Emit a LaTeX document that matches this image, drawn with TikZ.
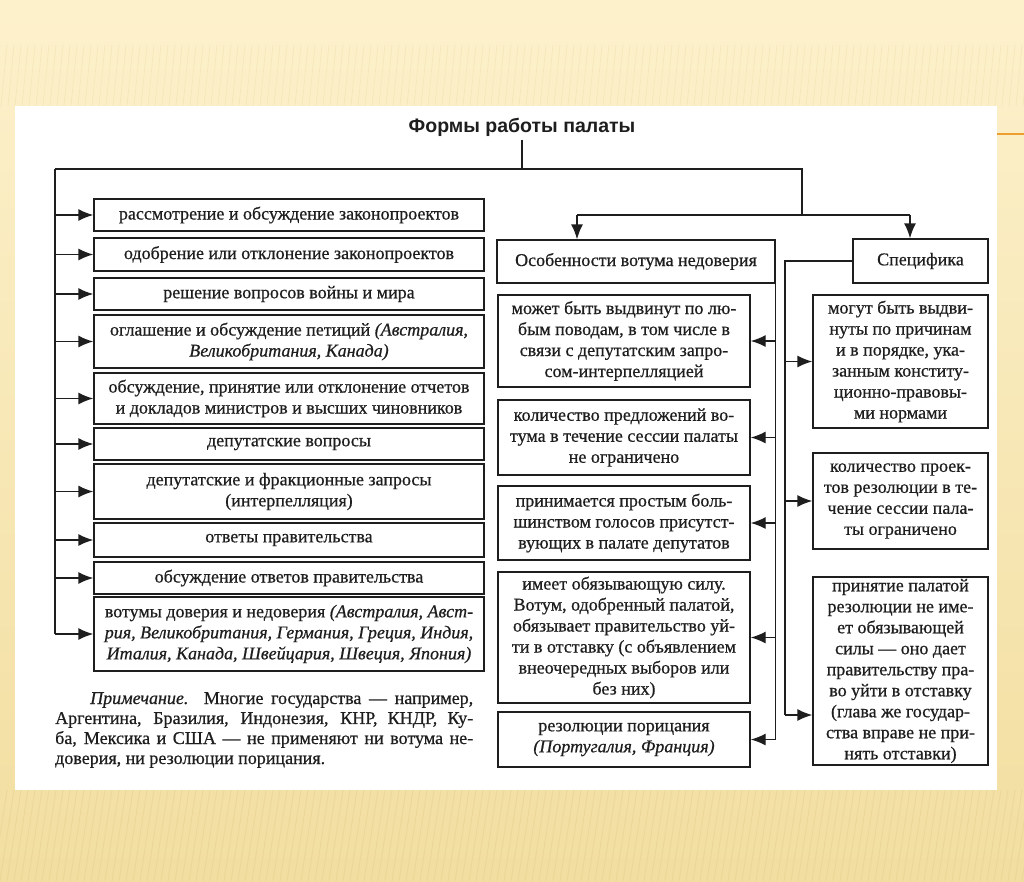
\documentclass[tikz,border=0pt]{standalone}
\usepackage{fontspec}
\setmainfont{Liberation Serif}[UprightFeatures={FakeBold=0.6}, ItalicFeatures={FakeBold=0.6}]
\newfontfamily\titlefont{Liberation Sans}
\usetikzlibrary{arrows.meta}
\definecolor{PaperLight}{RGB}{253,241,204}
\definecolor{PaperDark}{RGB}{242,222,160}
\definecolor{StripeTan}{RGB}{228,205,140}
\definecolor{SlideOrange}{RGB}{236,158,48}
\definecolor{InkGray}{RGB}{30,30,30}

\begin{document}
\begin{tikzpicture}[x=1pt, y=-1pt,
  formbox/.style={draw=InkGray, line width=1.4pt, text=InkGray, align=center,
    inner sep=2pt, font=\fontsize{18}{21}\selectfont},
  lbox/.style={formbox, minimum width=390pt},
  mbox/.style={formbox, minimum width=252pt},
  rbox/.style={formbox, minimum width=175pt},
  link/.style={draw=InkGray, line width=1.4pt},
  arr/.style={link, -{Latex[length=15pt,width=12pt]}}]

\useasboundingbox (0,0) rectangle (1024,881);

% ============================================================
% Slide background and white sheet
% ============================================================
\shade[top color=PaperLight, bottom color=PaperDark] (0,0) rectangle (1024,881);
\foreach \x in {0,7,...,1040}{%
  \draw[StripeTan, line width=0.7pt, opacity=0.25] (\x,45) -- ++(-6,61);
  \draw[StripeTan, line width=0.9pt, opacity=0.45] (\x,790) -- ++(-14,91);
}
\fill[white] (15,106) rectangle (997,790);
\draw[SlideOrange, line width=2.5pt] (997,134) -- (1024,134);

% Title
\node[text=InkGray, font=\titlefont\fontsize{19.5}{24}\selectfont\bfseries] (title) at (522,127) {Формы работы палаты};

% ============================================================
% Left column: forms of work
% ============================================================
\node[lbox, minimum height=32pt] (f1) at (289,215) {рассмотрение и обсуждение законопроектов};
\node[lbox, minimum height=33pt] (f2) at (289,254.5) {одобрение или отклонение законопроектов};
\node[lbox, minimum height=32pt] (f3) at (289,294) {решение вопросов войны и мира};
\node[lbox, minimum height=53pt] (f4) at (289,341.5) {оглашение и обсуждение петиций \textit{(Австралия,}\\\textit{Великобритания, Канада)}};
\node[lbox, minimum height=51pt] (f5) at (289,398.5) {обсуждение, принятие или отклонение отчетов\\и докладов министров и высших чиновников};
\node[lbox, minimum height=32pt] (f6) at (289,444) {депутатские вопросы};
\node[lbox, minimum height=55pt] (f7) at (289,491.5) {депутатские и фракционные запросы\\(интерпелляция)};
\node[lbox, minimum height=34pt] (f8) at (289,540) {ответы правительства};
\node[lbox, minimum height=32pt] (f9) at (289,578) {обсуждение ответов правительства};
\node[lbox, minimum height=74pt] (f10) at (289,634) {вотумы доверия и недоверия \textit{(Австралия, Авст-}\\\textit{рия, Великобритания, Германия, Греция, Индия,}\\\textit{Италия, Канада, Швейцария, Швеция, Япония)}};

% Note under the left column
\node[text=InkGray, align=left, anchor=north west, inner sep=0pt,
  font=\fontsize{18}{20}\selectfont] (note) at (55,692) {%
  \makebox[418pt][s]{\hspace*{35pt}\textit{Примечание.} Многие государства — например,}\\
  \makebox[418pt][s]{Аргентина, Бразилия, Индонезия, КНР, КНДР, Ку-}\\
  \makebox[418pt][s]{ба, Мексика и США — не применяют ни вотума не-}\\
  доверия, ни резолюции порицания.};

% ============================================================
% Middle column: vote of no confidence
% ============================================================
\node[formbox, minimum width=278pt, minimum height=43pt] (vote) at (636,261.5) {Особенности вотума недоверия};
\node[mbox, minimum height=92pt] (v1) at (624,341) {может быть выдвинут по лю-\\бым поводам, в том числе в\\связи с депутатским запро-\\сом-интерпелляцией};
\node[mbox, minimum height=75pt] (v2) at (624,437.5) {количество предложений во-\\тума в течение сессии палаты\\не ограничено};
\node[mbox, minimum height=74pt] (v3) at (624,523) {принимается простым боль-\\шинством голосов присутст-\\вующих в палате депутатов};
\node[mbox, minimum height=131pt] (v4) at (624,637.5) {имеет обязывающую силу.\\Вотум, одобренный палатой,\\обязывает правительство уй-\\ти в отставку (с объявлением\\внеочередных выборов или\\без них)};
\node[mbox, minimum height=55pt] (v5) at (624,739.5) {резолюции порицания\\\textit{(Португалия, Франция)}};

% ============================================================
% Right column: specifics of resolutions
% ============================================================
\node[formbox, minimum width=135pt, minimum height=44pt] (spec) at (920.5,261) {Специфика};
\node[rbox, minimum height=133pt] (s1) at (900.5,361.5) {могут быть выдви-\\нуты по причинам\\и в порядке, ука-\\занным конститу-\\ционно-правовы-\\ми нормами};
\node[rbox, minimum height=96pt] (s2) at (900.5,501) {количество проек-\\тов резолюции в те-\\чение сессии пала-\\ты ограничено};
\node[rbox, minimum height=188pt] (s3) at (900.5,671) {принятие палатой\\резолюции не име-\\ет обязывающей\\силы — оно дает\\правительству пра-\\во уйти в отставку\\(глава же государ-\\ства вправе не при-\\нять отставки)};

% ============================================================
% Connectors
% ============================================================
\coordinate (ltop) at (55,169);
\coordinate (rtop) at (802,169);
\coordinate (splitl) at (577,215);
\coordinate (splitr) at (910,215);
\coordinate (sbot) at (785,715);

\draw[link] (title.south) -- (title.south |- ltop);
\draw[link] (ltop) -- (rtop) -- (rtop |- splitl);
\draw[link] (splitl) -- (splitr);
\draw[arr] (splitl) -- (splitl |- vote.north);
\draw[arr] (splitr) -- (splitr |- spec.north);

% left trunk
\draw[link] (ltop) -- (ltop |- f10.west);
\foreach \b in {f1,f2,f3,f4,f5,f6,f7,f8,f9,f10}{%
  \draw[arr] (ltop |- \b.west) -- (\b.west);
}

% middle trunk
\draw[link] (vote.south east) -- (vote.south east |- v5.east);
\foreach \b in {v1,v2,v3,v4,v5}{%
  \draw[arr] (vote.south east |- \b.east) -- (\b.east);
}

% right trunk
\draw[link] (spec.west) -| (sbot);
\draw[arr] (sbot |- s1.west) -- (s1.west);
\draw[arr] (sbot |- s2.west) -- (s2.west);
\draw[arr] (sbot) -- (sbot -| s3.west);

\end{tikzpicture}
\end{document}
